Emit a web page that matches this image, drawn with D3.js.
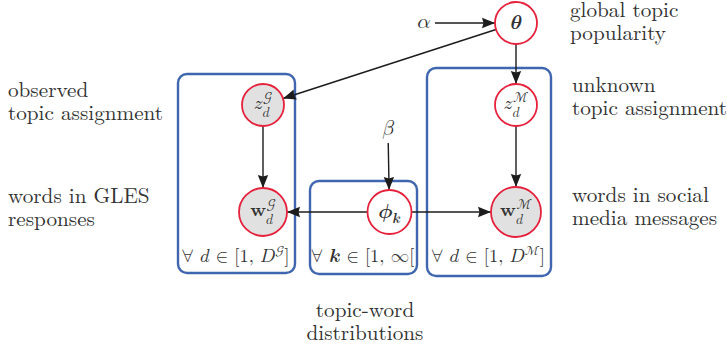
<!DOCTYPE html>
<html><head><meta charset="utf-8">
<script src="https://cdn.jsdelivr.net/npm/d3@7"></script>
<style>
html,body{margin:0;padding:0;background:#fff;}
svg{display:block;}
</style></head><body>
<svg id="fig" width="727" height="351"></svg>
<script>
// ---- model structure -------------------------------------------------
const nodeIds   = ["theta", "zG", "wG", "phi", "zM", "wM"];
const nodeBase  = ["𝜽", "𝑧", "𝐰", "𝝓", "𝑧", "𝐰"];
const nodeSub   = ["", "𝑑", "𝑑", "𝒌", "𝑑", "𝑑"];
const nodeSup   = ["", "𝒢", "𝒢", "", "ℳ", "ℳ"];
const observed  = [false, true, true, false, false, true];
const hyperIds  = ["alpha", "beta"];
const hyperText = ["𝛼", "𝛽"];
const edgeFrom  = ["alpha", "theta", "theta", "zG", "zM", "beta", "phi", "phi"];
const edgeTo    = ["theta", "zG", "zM", "wG", "wM", "phi", "wG", "wM"];
const plateIds   = ["docsG", "topics", "docsM"];
const plateVar   = ["𝑑", "𝒌", "𝑑"];
const plateUpper = ["𝐷", "∞", "𝐷"];
const plateSup   = ["𝒢", "", "ℳ"];
const plateClose = ["]", "[", "]"];
const noteLines = [
  ["global topic", "popularity"],
  ["observed", "topic assignment"],
  ["unknown", "topic assignment"],
  ["words in GLES", "responses"],
  ["words in social", "media messages"],
  ["topic-word", "distributions"]
];

// ---- layout ----------------------------------------------------------
const cols = ["G", "K", "M"];
const rows = ["top", "z", "w"];
const x = d3.scalePoint().domain(cols).range([263, 516]);
const y = d3.scaleOrdinal().domain(rows).range([23, 105, 212]);
const nodeCell = {theta: ["M", "top"], zG: ["G", "z"], wG: ["G", "w"],
                  phi: ["K", "w"], zM: ["M", "z"], wM: ["M", "w"]};
const nodeR = {theta: 21, zG: 21, wG: 24, phi: 22, zM: 21, wM: 25};
const hyperPos = {alpha: [424, 23], beta: [388, 130]};
const hyperGap = {alpha: 11, beta: 13};
const plateBox = {docsG: [178, 74, 295, 273], topics: [310, 181, 417, 274], docsM: [427, 68, 551, 276]};
const noteAt = [[570, 17, "start"], [8, 97, "start"], [572, 92, "start"],
                [8, 203, "start"], [572, 202, "start"], [365, 317, "middle"]];
const lineGap = 23;

const BLUE = "#3f66ae", RED = "#e5213c", GREY = "#e1e1e1", INK = "#1c1c1c", TXT = "#333333";
const TEXTFONT = "\"Latin Modern Roman\", \"Liberation Serif\", serif";
const MATHFONT = "\"Latin Modern Math\", \"STIX Two Math\", \"Latin Modern Roman\", serif";

const svg = d3.select("#fig");

// arrowhead
svg.append("defs").append("marker")
  .attr("id", "head").attr("viewBox", "0 -6 13 12")
  .attr("refX", 13).attr("refY", 0)
  .attr("markerWidth", 13).attr("markerHeight", 12)
  .attr("markerUnits", "userSpaceOnUse").attr("orient", "auto")
  .append("path").attr("d", "M0,-5.2L13,0L0,5.2L1.5,0Z").attr("fill", INK);

// positions of every drawable point
const pos = {};
nodeIds.forEach(id => { const c = nodeCell[id]; pos[id] = [x(c[0]), y(c[1])]; });
hyperIds.forEach(id => { pos[id] = hyperPos[id]; });
const radius = id => nodeR[id] !== undefined ? nodeR[id] : hyperGap[id];

function mathText(sel, size) {
  return sel.append("text").style("font-family", MATHFONT).style("font-size", size + "px").attr("fill", TXT);
}

// plates
const plateG = svg.append("g");
plateIds.forEach((id, i) => {
  const b = plateBox[id];
  plateG.append("rect")
    .attr("x", b[0]).attr("y", b[1]).attr("width", b[2] - b[0]).attr("height", b[3] - b[1])
    .attr("rx", 9).attr("fill", "none").attr("stroke", BLUE).attr("stroke-width", 2.4);
  const t = mathText(plateG, 18.5)
    .attr("x", (b[0] + b[2]) / 2 - 1).attr("y", 262).attr("text-anchor", "middle");
  t.append("tspan").text("∀ ");
  t.append("tspan").text(plateVar[i]);
  t.append("tspan").text(" ∈ [1, ");
  t.append("tspan").text(plateUpper[i]);
  if (plateSup[i]) t.append("tspan").style("font-size", "13px").attr("dy", -7).text(plateSup[i]);
  t.append("tspan").attr("dy", plateSup[i] ? 7 : 0).text(plateClose[i]);
});

// edges, clipped to node outlines
const edgeG = svg.append("g");
edgeFrom.forEach((f, i) => {
  const t = edgeTo[i];
  const [x1, y1] = pos[f], [x2, y2] = pos[t];
  const dx = x2 - x1, dy = y2 - y1, L = Math.hypot(dx, dy);
  const ux = dx / L, uy = dy / L;
  const r1 = radius(f), r2 = radius(t);
  edgeG.append("line")
    .attr("x1", x1 + ux * r1).attr("y1", y1 + uy * r1)
    .attr("x2", x2 - ux * r2).attr("y2", y2 - uy * r2)
    .attr("stroke", INK).attr("stroke-width", 1.4)
    .attr("marker-end", "url(#head)");
});

// nodes
const nodeG = svg.append("g");
nodeIds.forEach((id, i) => {
  const [cx, cy] = pos[id];
  nodeG.append("circle").attr("cx", cx).attr("cy", cy).attr("r", nodeR[id])
    .attr("fill", observed[i] ? GREY : "#fff").attr("stroke", RED).attr("stroke-width", 1.8);

  const size = (id === "theta" || id === "phi") ? 20 : 19;
  const g = nodeG.append("g");
  const base = mathText(g, size).attr("x", 0).attr("y", 0).text(nodeBase[i]);
  const bw = base.node().getComputedTextLength();
  let extra = 0;
  if (nodeSup[i]) {
    const s = mathText(g, 13.5).attr("x", bw + 0.5).attr("y", -6.5).text(nodeSup[i]);
    extra = Math.max(extra, s.node().getComputedTextLength() + 0.5);
  }
  if (nodeSub[i]) {
    const s = mathText(g, 13.5).attr("x", bw).attr("y", nodeSup[i] ? 8 : 4.5).text(nodeSub[i]);
    extra = Math.max(extra, s.node().getComputedTextLength());
  }
  const w = bw + extra;
  g.attr("transform", `translate(${cx - w / 2},${cy + (nodeSup[i] ? 3.5 : size * 0.3)})`);
});

// hyperparameters
hyperIds.forEach((id, i) => {
  const [hx, hy] = pos[id];
  mathText(svg, 21).attr("x", hx).attr("y", hy + 5).attr("text-anchor", "middle").text(hyperText[i]);
});

// captions
noteLines.forEach((lines, i) => {
  const [nx, ny, anchor] = noteAt[i];
  const t = svg.append("text").attr("x", nx).attr("y", ny).attr("text-anchor", anchor)
    .style("font-family", TEXTFONT).style("font-size", "21.2px").attr("fill", TXT);
  lines.forEach((ln, k) => t.append("tspan").attr("x", nx).attr("y", ny + k * lineGap).text(ln));
});
</script>
</body></html>
